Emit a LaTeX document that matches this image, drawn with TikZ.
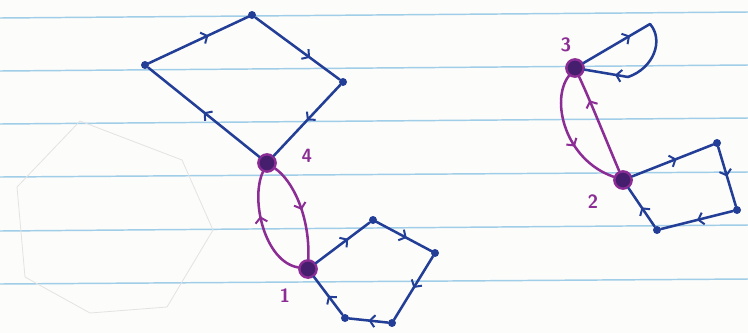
\documentclass[tikz,border=0pt]{standalone}
\usetikzlibrary{arrows.meta,decorations.markings}
\definecolor{ink}{RGB}{35,62,150}
\definecolor{violetink}{RGB}{140,45,150}
\definecolor{core}{RGB}{70,30,110}
\definecolor{rulecol}{RGB}{160,205,232}
\definecolor{paper}{RGB}{252,252,250}
\begin{document}
\begin{tikzpicture}[x=0.75pt,y=-0.75pt,
  dot/.style={circle,fill=ink,inner sep=0pt,minimum size=6pt},
  pnode/.style={circle,draw=violetink,line width=1.8pt,fill=core,inner sep=0pt,minimum size=13pt},
  bedge/.style={draw,color=ink,line width=1.9pt,line cap=round},
  pedge/.style={draw,color=violetink,line width=1.9pt,line cap=round},
  midarrow/.style={postaction={decorate},decoration={markings,mark=at position #1 with {\arrow{Straight Barb[length=3.8pt,width=9pt,line width=1.5pt]}}}},
  midarrow/.default=0.55,
  lbl/.style={text=violetink,font=\sffamily\bfseries\Large},
  rl/.style={draw=rulecol,line width=1.1pt}
]
\fill[paper] (0,0) rectangle (748,333);
\useasboundingbox (0,0) rectangle (748,333);
% ruled paper
\draw[rl] (0,18) -- (748,12);
\draw[rl] (0,71) -- (748,65);
\draw[rl] (0,124) -- (748,118);
\draw[rl] (0,177) -- (748,172);
\draw[rl] (0,231) -- (748,225);
\draw[rl] (0,284) -- (748,279);
% faint show-through
\draw[gray!22,line width=0.6pt] (80,121) -- (182,160) -- (213,230) -- (167,307) -- (90,313) -- (25,277) -- (17,187) -- cycle;

% nodes
\node[dot] (A) at (145,65) {};
\node[dot] (B) at (252,15) {};
\node[dot] (C) at (343,82) {};
\node[pnode] (n4) at (267,163) {};
\node[pnode] (n1) at (308,269) {};
\node[dot] (H1) at (373,220) {};
\node[dot] (H2) at (435,253) {};
\node[dot] (H3) at (392,323) {};
\node[dot] (H4) at (345,318) {};
\node[pnode] (n3) at (575,68) {};
\node[pnode] (n2) at (623,180) {};
\node[dot] (Q1) at (717,143) {};
\node[dot] (Q2) at (737,210) {};
\node[dot] (Q3) at (657,230) {};
\coordinate (L3) at (650,24);
\coordinate (L3b) at (628,77);

% labels
\node[lbl] (t4) at (307,156) {4};
\node[lbl] (t1) at (285,296) {1};
\node[lbl] (t3) at (566,45) {3};
\node[lbl] (t2) at (593,202) {2};

% diamond cycle
\draw[bedge,midarrow=0.6] (A) -- (B);
\draw[bedge,midarrow=0.65] (B) -- (C);
\draw[bedge,midarrow=0.5] (C) -- (n4);
\draw[bedge,midarrow=0.5] (n4) -- (A);

% pentagon cycle at 1
\draw[bedge,midarrow=0.6] (n1) -- (H1);
\draw[bedge,midarrow=0.55] (H1) -- (H2);
\draw[bedge,midarrow=0.5] (H2) -- (H3);
\draw[bedge,midarrow=0.5] (H3) -- (H4);
\draw[bedge,midarrow=0.5] (H4) -- (n1);

% loop at 3
\draw[bedge,midarrow=0.7] (n3) -- (L3);
\draw[bedge] (L3) .. controls (664,40) and (654,68) .. (L3b);
\draw[bedge,midarrow=0.3] (L3b) -- (n3);

% quad cycle at 2
\draw[bedge,midarrow=0.55] (n2) -- (Q1);
\draw[bedge,midarrow=0.5] (Q1) -- (Q2);
\draw[bedge,midarrow=0.5] (Q2) -- (Q3);
\draw[bedge,midarrow=0.5] (Q3) -- (n2);

% purple two-cycles
\draw[pedge,midarrow=0.6] (n1) .. controls (265,262) and (250,200) .. (n4);
\draw[pedge,midarrow=0.5] (n4) .. controls (292,180) and (310,215) .. (n1);
\draw[pedge,midarrow=0.6] (n3) .. controls (550,100) and (565,160) .. (n2);
\draw[pedge,midarrow=0.75] (n2) .. controls (606,140) and (590,100) .. (n3);
\end{tikzpicture}
\end{document}
